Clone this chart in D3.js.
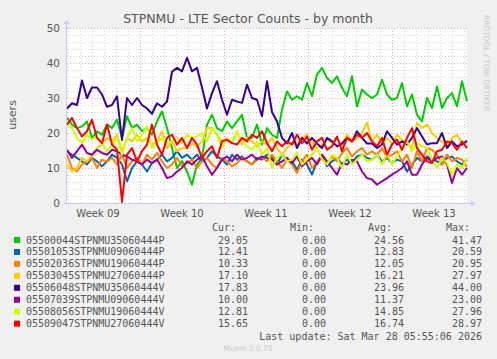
<!DOCTYPE html>
<html>
<head>
<meta charset="utf-8">
<script src="https://cdn.jsdelivr.net/npm/d3@7"></script>
<style>
  body { margin: 0; background: #f0f0f0; }
  svg { display: block; }
</style>
</head>
<body>
<div id="chart"></div>
<script>
// series names and colours (munin palette)
const names = [
  "05500044STPNMU35060444P", "05501053STPNMU09060444P", "05502036STPNMU19060444P",
  "05503045STPNMU27060444P", "05506048STPNMU35060444V", "05507039STPNMU09060444V",
  "05508056STPNMU19060444V", "05509047STPNMU27060444V"
];
const colors = ["#00cc00", "#0066b3", "#ff8000", "#ffcc00", "#330099", "#990099", "#ccff00", "#ff0000"];

// legend numbers
const curVals = ["29.05", "12.41", "10.33", "17.10", "17.83", "10.00", "12.81", "15.65"];
const minVals = ["0.00", "0.00", "0.00", "0.00", "0.00", "0.00", "0.00", "0.00"];
const avgVals = ["24.56", "12.83", "12.05", "16.21", "23.96", "11.37", "14.85", "16.74"];
const maxVals = ["41.47", "20.59", "20.95", "27.97", "44.00", "23.00", "27.96", "28.97"];

const yTicks = [0, 10, 20, 30, 40, 50];
const weekLabels = ["Week 09", "Week 10", "Week 11", "Week 12", "Week 13"];

// values, evenly spaced over the month
const s0 = [24.3, 22.4, 21.4, 21.9, 23.3, 18.6, 20.5, 19.5, 22.4, 21.4, 23.8, 18.6, 24.8, 21.4, 22.4, 20.5, 21.4, 19.5, 23.3, 26.2, 21.4,
  15.7, 10, 12, 9, 5.2, 11, 12.9, 22.4, 25.2, 21.4, 20.5, 23.3, 21.4, 23.3, 25.2, 18.6, 18.6, 22.4, 16.7, 21.4,
  19.5, 18.6, 26.7, 31.9, 29.5, 30.5, 29.5, 34.3, 30.5, 36.7, 38.6, 35.7, 34.3, 36.2, 32.9, 30.5, 36.2, 27.6, 32.4, 31,
  30, 31, 35.2, 31, 29.5, 30, 34.3, 27.6, 31, 25.2, 23.3, 30, 27.1, 33.3, 27.1, 30, 31.4, 27.6, 34.8, 29.1];
const s1 = [14.8, 13.8, 12.9, 11.9, 11, 12.9, 11.9, 10.5, 11.9, 13.8, 12.9, 11, 6.2, 10, 11.9, 11, 9, 11.4, 12.4, 13.8, 11.9,
  12.9, 14.8, 12.9, 13.8, 12.4, 13.8, 11.9, 12.9, 14.8, 13.3, 12.4, 11, 13.8, 12.4, 13.3, 11.9, 11, 12.9, 12.4, 13.8,
  12.9, 11, 13.8, 12.4, 11.9, 9.5, 12.4, 11, 8.1, 11.9, 13.3, 10.5, 11.9, 12.9, 11, 12.4, 11.4, 13.3, 13.8, 12.9,
  12.4, 13.8, 11.9, 12.9, 11.4, 12.4, 11.9, 9, 11, 12.9, 11.9, 13.3, 12.4, 11.9, 11, 12.9, 13.3, 11.9, 11, 12.4];
const s2 = [13.8, 10, 9, 11, 11.9, 12.9, 10, 12.4, 11.9, 12.9, 11, 13.8, 10, 11.9, 12.9, 11, 13.8, 12.4, 14.3, 11.9, 10,
  11, 12.9, 10.5, 11.4, 12.4, 10, 11.9, 12.9, 11, 10, 12.9, 11.9, 10.5, 11.4, 12.9, 11.9, 11, 12.4, 13.3, 11.9,
  13.8, 11.9, 10, 12.4, 11, 8.6, 11.9, 13.8, 10, 11.9, 12.9, 11, 13.3, 11.9, 14.3, 15.7, 13.3, 14.8, 15.7, 13.8,
  14.8, 13.8, 15.7, 12.9, 13.8, 14.8, 11.9, 13.8, 10, 14.8, 11.9, 15.7, 15.2, 13.8, 11, 13.8, 11.9, 12.9, 12.4, 10.3];
const s3 = [11, 9, 10, 12.9, 11.9, 13.8, 15.7, 16.7, 18.6, 17.6, 19.5, 14.8, 18.6, 17.6, 19.5, 17.6, 18.6, 16.7, 17.6, 20.5, 15.7,
  17.6, 14.8, 15.7, 15.7, 17.1, 16.2, 17.6, 21.4, 21.4, 19.5, 17.6, 18.6, 17.1, 20.5, 16.7, 18.6, 17.6, 16.2, 17.6, 16.7,
  18.6, 15.7, 13.8, 15.7, 17.1, 16.7, 18.6, 19.5, 17.6, 15.7, 16.7, 18.1, 17.1, 18.6, 16.2, 19.5, 17.6, 18.6, 20, 23,
  17.6, 19.5, 17.1, 18.6, 16.7, 19.5, 18.1, 17.1, 15.7, 22.9, 21.4, 22.4, 20, 18.6, 17.6, 16.2, 18.6, 19.5, 17.1, 17.1];
const s4 = [27, 28.5, 28, 35, 30, 33, 33, 31, 27.5, 28, 30.5, 18, 30, 28, 30, 28, 27, 25.5, 28.5, 27.5, 29,
  37.5, 38.6, 37.6, 41.5, 37.6, 38.6, 33, 27, 31.4, 34.8, 29.5, 25.2, 29.5, 29, 28.6, 33.8, 30, 29.5, 24.8, 34.8,
  26, 23.3, 18.6, 17, 20, 15.7, 18.6, 17, 18.6, 17, 15.7, 18.6, 17.6, 16.2, 17, 18.6, 17.6, 20.5, 18.6, 17,
  17, 15.7, 16.7, 20.5, 18.6, 16.7, 17.6, 16.7, 18.6, 21.4, 19, 16.7, 17.1, 17.1, 20, 15.7, 17.6, 16.2, 16.7, 17.8];
const s5 = [15.2, 12.9, 14.8, 16.7, 14.3, 13.8, 15.2, 14.3, 13.8, 15.2, 14.8, 13.8, 13.3, 12.4, 11.9, 11, 12.4, 11.4, 12.4, 10, 7.1,
  7.6, 9, 10, 11.9, 11, 12.4, 13.3, 10.5, 8.1, 10, 12.4, 13.3, 11.9, 13.8, 12.4, 12.9, 13.8, 12.4, 13.3, 12.9,
  12.4, 11, 11.9, 12.9, 11.4, 13.3, 10.5, 11.9, 12.9, 11, 13.8, 11.9, 10, 8.1, 11.4, 11, 12.4, 11.9, 9, 7.1,
  6.7, 5.2, 6.2, 7.1, 8.1, 9, 10, 11.9, 8.1, 8.1, 11, 12.9, 11.9, 12.9, 13.3, 11, 5.7, 10, 8.1, 10];
const s6 = [22.9, 21.4, 18.6, 17.1, 19.5, 18.1, 19, 17.1, 14.8, 16.7, 18.6, 13.8, 18.6, 21.4, 17.6, 19.5, 21.9, 15.7, 17.1, 18.6, 17.1,
  17.6, 18.6, 17.1, 19.5, 18.6, 19, 20, 17.6, 21.4, 19.5, 15.7, 18.6, 17.1, 20.5, 17.6, 16.2, 15.2, 17.6, 13.8, 15.7,
  10, 12.9, 13.8, 11.9, 12.4, 14.3, 11, 12.4, 13.8, 15.7, 12.4, 11, 13.8, 12.9, 10, 13.8, 11, 12.4, 13.8, 11.9,
  12.4, 13.8, 11, 14.3, 11, 13.3, 15.7, 17.6, 14.8, 17.1, 16.2, 15.7, 12.4, 10, 12.9, 11.4, 8.1, 11, 10, 12.8];
const s7 = [22.4, 24.3, 21.4, 19, 20.5, 23.8, 18.6, 17.1, 22.4, 16.7, 15.2, 0.3, 13.8, 15.7, 11.9, 14.8, 16.7, 22.4, 16.7, 13.8, 18.6,
  19.5, 16.7, 18.6, 15.7, 18.6, 16.7, 12.9, 14.8, 16.2, 12.9, 17.6, 18.1, 17.1, 16.7, 18.6, 17.6, 19.5, 18.6, 20.5, 17.1,
  14.8, 17.6, 16.2, 17.6, 16.7, 19.5, 17.1, 19, 15.2, 17.6, 18.6, 15.2, 16.2, 19, 14.8, 18.6, 17.6, 19.5, 18.6, 20,
  17.6, 16.2, 18.6, 13.8, 16.7, 18.1, 15.2, 18.6, 21.4, 15.7, 13.8, 11.9, 11.4, 14.8, 15.2, 17.6, 17.1, 15.2, 17.6, 15.7];
const seriesData = [s0, s1, s2, s3, s4, s5, s6, s7];

const width = 497, height = 359;
const margin = { top: 28, right: 30, bottom: 156, left: 67 };
const plotW = width - margin.left - margin.right;   // 400
const plotH = height - margin.top - margin.bottom;  // 175

const tStart = new Date(2026, 1, 23, 22, 0);
const tEnd = new Date(2026, 2, 29, 6, 0);

const svg = d3.select("#chart").append("svg")
  .attr("width", width).attr("height", height)
  .style("font-family", "'DejaVu Sans', sans-serif");

svg.append("rect").attr("width", width).attr("height", height).attr("fill", "#f0f0f0");

const x = d3.scaleTime().domain([tStart, tEnd]).range([margin.left, margin.left + plotW]);
const y = d3.scaleLinear().domain([0, 50]).range([margin.top + plotH, margin.top]);

// canvas
svg.append("rect")
  .attr("x", margin.left).attr("y", margin.top)
  .attr("width", plotW).attr("height", plotH)
  .attr("fill", "#ffffff");

const grid = svg.append("g").attr("shape-rendering", "crispEdges");

// minor horizontal grid every 2
grid.selectAll(".hmin").data(d3.range(2, 50, 2).filter(v => v % 10 !== 0)).enter()
  .append("line")
  .attr("x1", margin.left).attr("x2", margin.left + plotW)
  .attr("y1", d => Math.round(y(d)) + 0.5).attr("y2", d => Math.round(y(d)) + 0.5)
  .attr("stroke", "#d4d4d4").attr("stroke-dasharray", "1,2");

// daily vertical grid
const days = d3.timeDay.range(d3.timeDay.ceil(tStart), tEnd).filter(d => d.getDay() !== 1);
grid.selectAll(".vmin").data(days).enter()
  .append("line")
  .attr("x1", d => Math.round(x(d)) + 0.5).attr("x2", d => Math.round(x(d)) + 0.5)
  .attr("y1", margin.top).attr("y2", margin.top + plotH)
  .attr("stroke", "#d4d4d4").attr("stroke-dasharray", "1,2");

// major horizontal grid every 10
grid.selectAll(".hmaj").data(yTicks.filter(v => v > 0)).enter()
  .append("line")
  .attr("x1", margin.left).attr("x2", margin.left + plotW)
  .attr("y1", d => Math.round(y(d)) + 0.5).attr("y2", d => Math.round(y(d)) + 0.5)
  .attr("stroke", "#f0a0a0").attr("stroke-dasharray", "1,2");

// weekly vertical grid
const mondays = d3.timeMonday.range(tStart, tEnd);
grid.selectAll(".vmaj").data(mondays).enter()
  .append("line")
  .attr("x1", d => Math.round(x(d)) + 0.5).attr("x2", d => Math.round(x(d)) + 0.5)
  .attr("y1", margin.top).attr("y2", margin.top + plotH)
  .attr("stroke", "#f0a0a0").attr("stroke-dasharray", "1,2");

// lines
const n = s0.length;
const timeAt = i => new Date(+tStart + (tEnd - tStart) * i / (n - 1));
const line = d3.line()
  .x((d, i) => x(timeAt(i)))
  .y(d => y(d));

svg.append("g").selectAll("path").data(seriesData).enter()
  .append("path")
  .attr("d", d => line(d))
  .attr("fill", "none")
  .attr("stroke", (d, i) => colors[i])
  .attr("stroke-width", 2)
  .attr("stroke-linejoin", "round");

// axes (rrdtool style)
const axisColor = "#c8cce8";
svg.append("line")
  .attr("x1", margin.left - 0.5).attr("x2", margin.left - 0.5)
  .attr("y1", margin.top + plotH + 2).attr("y2", margin.top - 4)
  .attr("stroke", axisColor);
svg.append("path")
  .attr("d", `M${margin.left - 3.5},${margin.top - 4} L${margin.left - 0.5},${margin.top - 8} L${margin.left + 2.5},${margin.top - 4} Z`)
  .attr("fill", axisColor);
svg.append("line")
  .attr("x1", margin.left - 3).attr("x2", margin.left + plotW + 4)
  .attr("y1", margin.top + plotH + 0.5).attr("y2", margin.top + plotH + 0.5)
  .attr("stroke", axisColor);
svg.append("path")
  .attr("d", `M${margin.left + plotW + 4},${margin.top + plotH - 2.5} L${margin.left + plotW + 8},${margin.top + plotH + 0.5} L${margin.left + plotW + 4},${margin.top + plotH + 3.5} Z`)
  .attr("fill", axisColor);

// y tick labels
svg.append("g").selectAll("text").data(yTicks).enter()
  .append("text")
  .attr("x", margin.left - 7)
  .attr("y", d => y(d) + 3.5)
  .attr("text-anchor", "end")
  .attr("font-size", 10.5)
  .attr("fill", "#555")
  .text(d => d);

// week labels at the middle of each ISO week
const weekMid = d3.range(weekLabels.length).map(i => d3.timeHour.offset(d3.timeDay.offset(mondays[0], 7 * i - 4), 12));
svg.append("g").selectAll("text").data(weekLabels).enter()
  .append("text")
  .attr("x", (d, i) => x(weekMid[i]))
  .attr("y", margin.top + plotH + 14)
  .attr("text-anchor", "middle")
  .attr("font-size", 10)
  .attr("fill", "#555")
  .text(d => d);

// title
svg.append("text")
  .attr("x", 248).attr("y", 23)
  .attr("text-anchor", "middle")
  .attr("font-size", 12.5)
  .attr("fill", "#555")
  .text("STPNMU - LTE Sector Counts - by month");

// y axis label
svg.append("text")
  .attr("transform", "translate(16,115) rotate(-90)")
  .attr("text-anchor", "middle")
  .attr("font-size", 11)
  .attr("fill", "#555")
  .text("users");

// side label
svg.append("text")
  .attr("transform", "translate(484,15) rotate(90)")
  .attr("font-size", 7.5)
  .attr("fill", "#c8c8c8")
  .text("RRDTOOL / TOBI OETIKER");

// legend
const mono = "'DejaVu Sans Mono', monospace";
const legend = svg.append("g").style("font-family", mono).attr("font-size", 10).attr("fill", "#555");
const colEnds = [248, 326, 404, 482];
["Cur:", "Min:", "Avg:", "Max:"].forEach((h, j) => {
  legend.append("text").attr("x", colEnds[j] - 12).attr("y", 231)
    .attr("text-anchor", "end").text(h);
});
const rows = legend.selectAll(".row").data(names).enter()
  .append("g")
  .attr("transform", (d, i) => `translate(0,${240 + i * 11.95})`);
rows.append("rect")
  .attr("x", 14).attr("y", -3).attr("width", 6).attr("height", 6)
  .attr("fill", (d, i) => colors[i]);
rows.append("text").attr("x", 26).attr("y", 3.5).text(d => d);
[curVals, minVals, avgVals, maxVals].forEach((col, j) => {
  rows.append("text").attr("x", colEnds[j]).attr("y", 3.5)
    .attr("text-anchor", "end").text((d, i) => col[i]);
});
legend.append("text").attr("x", 482).attr("y", 339.5)
  .attr("text-anchor", "end")
  .text("Last update: Sat Mar 28 05:55:06 2026");

svg.append("text")
  .attr("x", 248).attr("y", 351)
  .attr("text-anchor", "middle")
  .attr("font-size", 7.5)
  .attr("fill", "#c8c8c8")
  .text("Munin 2.0.75");
</script>
</body>
</html>
